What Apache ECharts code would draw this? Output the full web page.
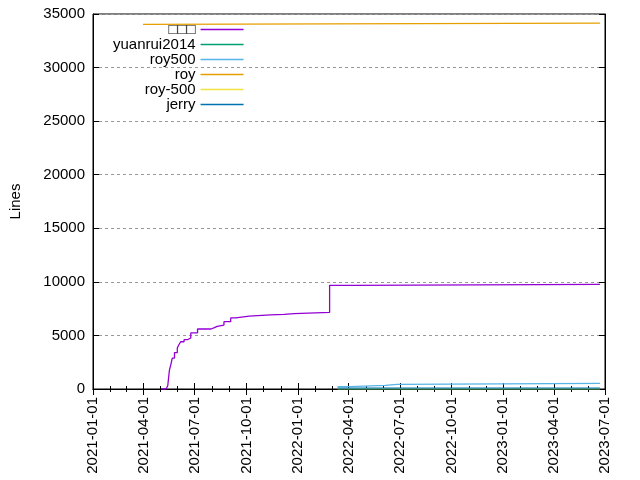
<!DOCTYPE html>
<html>
<head>
<meta charset="utf-8">
<script src="https://cdn.jsdelivr.net/npm/echarts@6/dist/echarts.min.js"></script>
<style>
html,body{margin:0;padding:0;background:#fff;}
#main{width:640px;height:480px;}
</style>
</head>
<body>
<div id="main"></div>
<script>
// series names and values
var names = ['□□□', 'yuanrui2014', 'roy500', 'roy', 'roy-500', 'jerry'];
var colors = ['#9400d3', '#009e73', '#56b4e9', '#e69f00', '#f0e442', '#0072b2'];

var mainDates = ['2021-05-02','2021-05-11','2021-05-14','2021-05-17','2021-05-20','2021-05-22','2021-05-26','2021-05-31','2021-06-03','2021-06-06','2021-06-12','2021-06-18','2021-06-24','2021-07-06','2021-07-30','2021-08-04','2021-08-10','2021-08-22','2021-09-03','2021-09-12','2021-10-06','2021-11-13','2021-12-07','2021-12-25','2022-02-26','2022-04-10','2023-06-22'];
var mainLines = [0, 150, 300, 1770, 2400, 2890, 3400, 3830, 4150, 4410, 4600, 4760, 5230, 5600, 5700, 5850, 5970, 6280, 6630, 6810, 6910, 6970, 7030, 7160, 9680, 9770, 9770];

var roy500Dates = ['2022-03-12','2022-04-04','2022-06-05','2022-06-26','2023-06-22'];
var roy500Lines = [217, 342, 435, 528, 528];

var royDates = ['2021-03-31','2021-04-07','2023-06-22'];
var royLines = [34040, 34150, 34150];

var jerryDates = ['2022-03-12','2023-06-22'];
var jerryLines = [90, 90];

var yuanDates = ['2022-03-12','2023-06-22'];
var yuanLines = [20, 20];

var roy_500Dates = ['2022-03-12','2023-06-22'];
var roy_500Lines = [40, 40];

var yTicks = [0, 5000, 10000, 15000, 20000, 25000, 30000, 35000];

function pairs(d, v) {
    return d.map(function(x, i){ return [x, v[i]]; });
}
var data = [
    pairs(mainDates, mainLines),
    pairs(yuanDates, yuanLines),
    pairs(roy500Dates, roy500Lines),
    pairs(royDates, royLines),
    pairs(roy_500Dates, roy_500Lines),
    pairs(jerryDates, jerryLines)
];

var font = 'Liberation Sans, Arial, sans-serif';
var chart = echarts.init(document.getElementById('main'));

chart.setOption({
    animation: false,
    color: colors,
    grid: {left: 92, right: 35, top: 14, bottom: 91, show: true, borderColor: '#000', borderWidth: 1},
    legend: {
        orient: 'vertical', left: 108, top: 17, align: 'right',
        icon: 'rect', itemWidth: 43, itemHeight: 1.5, itemGap: 0,
        textStyle: {fontFamily: font, fontSize: 15, lineHeight: 15, color: '#000'},
        data: names
    },
    xAxis: [{
        type: 'time',
        min: '2021-01-01', max: '2023-07-01',
        minInterval: 90 * 86400000, maxInterval: 93 * 86400000,
        axisLine: {lineStyle: {color: '#000'}},
        axisTick: {inside: true, length: 6, lineStyle: {color: '#000'}},
        minorTick: {show: true, splitNumber: 3, length: 3, lineStyle: {color: '#000'}},
        splitLine: {show: false},
        axisLabel: {
            rotate: 90, fontFamily: font, fontSize: 15, color: '#000', hideOverlap: false,
            formatter: function(v){ return echarts.time.format(v, '{yyyy}-{MM}-{dd}', false); }
        }
    }, {
        type: 'time', position: 'top',
        min: '2021-01-01', max: '2023-07-01',
        minInterval: 90 * 86400000, maxInterval: 93 * 86400000,
        axisLine: {lineStyle: {color: '#000'}},
        axisTick: {inside: true, length: 6, lineStyle: {color: '#000'}},
        minorTick: {show: true, splitNumber: 3, length: 3, lineStyle: {color: '#000'}},
        splitLine: {show: false}, axisLabel: {show: false}
    }],
    yAxis: [{
        type: 'value', min: 0, max: 35000, interval: 5000,
        name: 'Lines', nameLocation: 'middle', nameGap: 70,
        nameTextStyle: {fontFamily: font, fontSize: 15, color: '#000'},
        axisLine: {show: true, lineStyle: {color: '#000'}},
        axisTick: {show: true, inside: true, length: 6, lineStyle: {color: '#000'}},
        axisLabel: {fontFamily: font, fontSize: 15, color: '#000',
            formatter: function(v){ return yTicks.indexOf(v) >= 0 ? String(v) : ''; }},
        splitLine: {lineStyle: {color: '#999', type: [3, 3]}}
    }, {
        type: 'value', min: 0, max: 35000, interval: 5000, position: 'right',
        axisLine: {show: true, lineStyle: {color: '#000'}},
        axisTick: {show: true, inside: true, length: 6, lineStyle: {color: '#000'}},
        axisLabel: {show: false}, splitLine: {show: false}
    }],
    series: names.map(function(n, i){
        return {
            name: n, type: 'line', step: 'end', symbol: 'none',
            lineStyle: {width: 1.3},
            data: data[i]
        };
    })
});
</script>
</body>
</html>
